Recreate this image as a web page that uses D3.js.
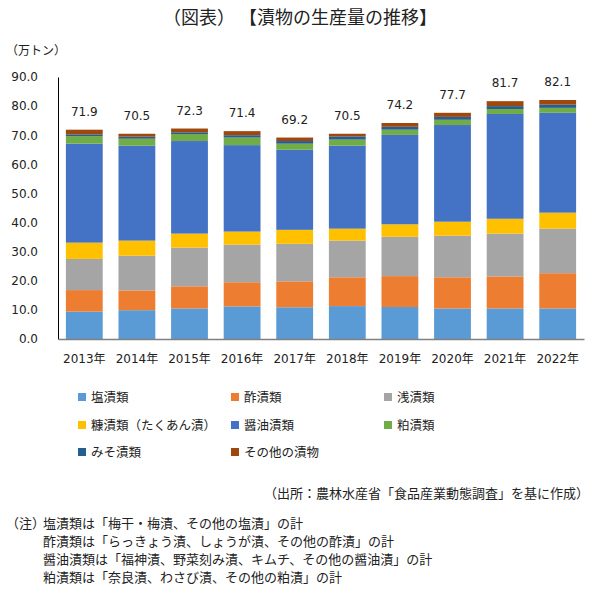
<!DOCTYPE html>
<html><head><meta charset="utf-8">
<script src="https://cdn.jsdelivr.net/npm/d3@7"></script>
<style>body{margin:0;background:#fff;} svg{display:block;}</style>
</head><body>
<svg id="chart" width="600" height="600"></svg>
<script>
const years = ["2013年","2014年","2015年","2016年","2017年","2018年","2019年","2020年","2021年","2022年"];
const seriesNames = ["塩漬類","酢漬類","浅漬類","糠漬類（たくあん漬）","醤油漬類","粕漬類","みそ漬類","その他の漬物"];
const shio   = [9.4, 9.9, 10.5, 11.2, 10.9, 11.3, 11.0, 10.5, 10.5, 10.5];
const su     = [7.4, 6.8, 7.6, 8.3, 8.9, 9.9, 10.6, 10.7, 11.0, 12.1];
const asa    = [10.7, 11.9, 13.3, 12.9, 12.9, 12.6, 13.5, 14.3, 14.7, 15.3];
const nuka   = [5.6, 5.2, 4.8, 4.5, 4.8, 4.1, 4.3, 4.8, 5.1, 5.5];
const shoyu  = [34.0, 32.6, 31.8, 29.7, 27.5, 28.5, 30.7, 33.2, 36.0, 34.3];
const kasu   = [2.6, 2.4, 2.4, 2.6, 2.1, 2.1, 1.8, 1.8, 1.7, 1.7];
const miso   = [0.6, 0.7, 0.6, 0.8, 0.9, 1.1, 1.0, 1.0, 1.0, 1.1];
const other  = [1.6, 1.0, 1.3, 1.4, 1.2, 0.9, 1.3, 1.4, 1.7, 1.6];
const totals = [71.9, 70.5, 72.3, 71.4, 69.2, 70.5, 74.2, 77.7, 81.7, 82.1];
const yTicks = [0,10,20,30,40,50,60,70,80,90];
const colors = ["#5B9BD5","#ED7D31","#A5A5A5","#FFC000","#4472C4","#70AD47","#255E91","#9E480E"];
const notes = [
  "塩漬類は「梅干・梅漬、その他の塩漬」の計",
  "酢漬類は「らっきょう漬、しょうが漬、その他の酢漬」の計",
  "醤油漬類は「福神漬、野菜刻み漬、キムチ、その他の醤油漬」の計",
  "粕漬類は「奈良漬、わさび漬、その他の粕漬」の計"
];

const seriesData = [shio, su, asa, nuka, shoyu, kasu, miso, other];
const table = years.map((y, i) => {
  const o = {year: y};
  seriesNames.forEach((s, k) => o[s] = seriesData[k][i]);
  return o;
});

const svg = d3.select("#chart");
const NUM = "'DejaVu Sans', 'Noto Sans CJK JP', sans-serif";
const JP = "'Noto Sans CJK JP', sans-serif";

const x = d3.scaleBand().domain(years).range([58, 584]).paddingInner(0.3).paddingOuter(0.15);
const y = d3.scaleLinear().domain([0, 90]).range([339, 77]);

// title
svg.append("text").attr("x", 300).attr("y", 24).attr("text-anchor", "middle")
  .attr("font-family", JP).attr("font-size", 18).attr("fill", "#222")
  .text("（図表） 【漬物の生産量の推移】");
svg.append("text").attr("x", 6).attr("y", 55)
  .attr("font-family", JP).attr("font-size", 12).attr("fill", "#222")
  .text("（万トン）");

// stacked bars
const stack = d3.stack().keys(seriesNames)(table);
svg.append("g").selectAll("g").data(stack).join("g")
  .attr("fill", (d, i) => colors[i])
  .selectAll("rect").data(d => d).join("rect")
  .attr("x", d => x(d.data.year))
  .attr("width", x.bandwidth())
  .attr("y", d => y(d[1]))
  .attr("height", d => y(d[0]) - y(d[1]));

// y axis
const yAxis = svg.append("g").attr("transform", "translate(58,0)")
  .call(d3.axisLeft(y).tickValues(yTicks).tickFormat(d3.format(".1f")).tickSize(0).tickPadding(20));
yAxis.select(".domain").attr("stroke", "#000").attr("stroke-width", 1);
yAxis.selectAll("text").attr("font-family", NUM).attr("font-size", 12).attr("fill", "#222");

// x axis
const xAxis = svg.append("g").attr("transform", "translate(0,339)")
  .call(d3.axisBottom(x).tickSize(0).tickPadding(15));
xAxis.select(".domain").attr("stroke", "#808080").attr("stroke-width", 1.3);
xAxis.selectAll("text").attr("font-family", NUM).attr("font-size", 12).attr("fill", "#222");

// totals
svg.append("g").selectAll("text").data(years).join("text")
  .attr("x", d => x(d) + x.bandwidth() / 2)
  .attr("y", (d, i) => y(totals[i]) - 14)
  .attr("text-anchor", "middle")
  .attr("font-family", NUM).attr("font-size", 12).attr("fill", "#222")
  .text((d, i) => totals[i].toFixed(1));

// legend
const colX = [78, 231, 384];
const rowY = [397, 425, 452];
const leg = svg.append("g").selectAll("g").data(seriesNames).join("g")
  .attr("transform", (d, i) => `translate(${colX[i % 3]},${rowY[Math.floor(i / 3)]})`);
leg.append("rect").attr("x", 0).attr("y", -4).attr("width", 8).attr("height", 8)
  .attr("fill", (d, i) => colors[i]);
leg.append("text").attr("x", 13).attr("y", 4.5)
  .attr("font-family", JP).attr("font-size", 12.5).attr("fill", "#222")
  .text(d => d);

// source
svg.append("text").attr("x", 589).attr("y", 498).attr("text-anchor", "end")
  .attr("font-family", JP).attr("font-size", 13).attr("fill", "#222")
  .text("（出所：農林水産省「食品産業動態調査」を基に作成）");

// notes
svg.append("text").attr("x", 6).attr("y", 528)
  .attr("font-family", JP).attr("font-size", 13).attr("fill", "#222")
  .text("（注）");
svg.append("g").selectAll("text").data(notes).join("text")
  .attr("x", 43).attr("y", (d, i) => 528 + i * 18)
  .attr("font-family", JP).attr("font-size", 13).attr("fill", "#222")
  .text(d => d);
</script>
</body></html>
